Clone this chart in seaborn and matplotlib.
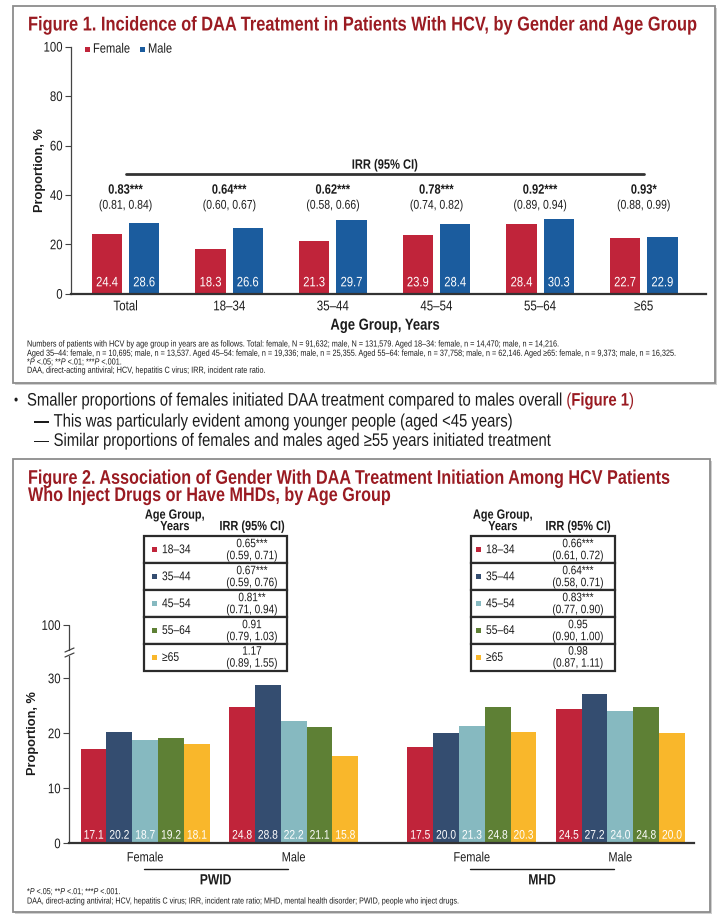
import matplotlib
matplotlib.use('Agg')
import matplotlib.pyplot as plt
import seaborn as sns
import pandas as pd
from matplotlib.patches import Rectangle
from matplotlib.lines import Line2D
from matplotlib.patheffects import AbstractPathEffect
from matplotlib.transforms import Affine2D
from matplotlib.textpath import TextToPath
from matplotlib.font_manager import FontProperties

# ---- Figure 1 data ----
age_groups_1 = ['Total', '18–34', '35–44', '45–54', '55–64', '≥65']
female_1 = [24.4, 18.3, 21.3, 23.9, 28.4, 22.7]
male_1 = [28.6, 26.6, 29.7, 28.4, 30.3, 22.9]
irr_1 = ['0.83***', '0.64***', '0.62***', '0.78***', '0.92***', '0.93*']
ci_1 = ['(0.81, 0.84)', '(0.60, 0.67)', '(0.58, 0.66)', '(0.74, 0.82)', '(0.89, 0.94)', '(0.88, 0.99)']

# ---- Figure 2 data ----
age_groups_2 = ['18–34', '35–44', '45–54', '55–64', '≥65']
group_labels = ['Female', 'Male', 'Female', 'Male']
pwid_female = [17.1, 20.2, 18.7, 19.2, 18.1]
pwid_male = [24.8, 28.8, 22.2, 21.1, 15.8]
mhd_female = [17.5, 20.0, 21.3, 24.8, 20.3]
mhd_male = [24.5, 27.2, 24.0, 24.8, 20.0]
pwid_irr = ['0.65***', '0.67***', '0.81**', '0.91', '1.17']
pwid_ci = ['(0.59, 0.71)', '(0.59, 0.76)', '(0.71, 0.94)', '(0.79, 1.03)', '(0.89, 1.55)']
mhd_irr = ['0.66***', '0.64***', '0.83***', '0.95', '0.98']
mhd_ci = ['(0.61, 0.72)', '(0.58, 0.71)', '(0.77, 0.90)', '(0.90, 1.00)', '(0.87, 1.11)']

TITLE_RED = '#9a1b22'
RED = '#c0243a'
BLUE = '#1b5c9e'
colors_2 = ['#c0243a', '#344d70', '#86b9c0', '#5e8035', '#f9b72b']
INK = '#1c1c1c'

sns.set_theme(style='white')
FAMILY = ['Liberation Sans', 'DejaVu Sans']
plt.rcParams['font.family'] = FAMILY

# the poster lettering is condensed (tall and narrow); stretch glyphs vertically
SY = 1 / 0.82


class Stretch(AbstractPathEffect):
    def __init__(self, artist, sy=SY):
        super().__init__()
        self.artist = artist
        self.sy = sy

    def draw_path(self, renderer, gc, tpath, affine, rgbFace=None):
        a = self.artist
        y0 = a.get_transform().transform(a.get_unitless_position())[1]
        aff = affine + Affine2D().translate(0, -y0).scale(1, self.sy).translate(0, y0)
        renderer.draw_path(gc, tpath, aff, rgbFace)


def condense(t):
    t.set_path_effects([Stretch(t)])


W, H = 727, 918
fig = plt.figure(figsize=(W / 100, H / 100), dpi=100)
TTP = TextToPath()


def px(x, y):
    return x / W, 1 - y / H


def text(x, y, s, size, **kw):
    kw.setdefault('va', 'center')
    kw.setdefault('color', INK)
    return fig.text(x / W, 1 - y / H, s, fontsize=size, **kw)


def width_of(s, size, **kw):
    # outline-based advance width in pixels, trailing spaces included
    prop = FontProperties(family=FAMILY, size=size, weight=kw.get('fontweight', 'normal'),
                          style=kw.get('style', 'normal'))
    w1 = TTP.get_text_width_height_descent(s + '|', prop, ismath=False)[0]
    w2 = TTP.get_text_width_height_descent('|', prop, ismath=False)[0]
    return (w1 - w2) * 100 / 72


def fit(s, target, **kw):
    return 10 * target / width_of(s, 10, **kw)


def run(x, y, pieces, size, **common):
    for s, kw in pieces:
        style = {**common, **kw}
        text(x, y, s.rstrip(), size, **style)
        x += width_of(s, size, **style)


def panel(x0, y0, x1, y1):
    fig.add_artist(Rectangle(px(x0 + 2, y1 + 2), (x1 - x0) / W, (y1 - y0) / H,
                             transform=fig.transFigure, facecolor='#cfcfcf',
                             edgecolor='none', zorder=-3))
    fig.add_artist(Rectangle(px(x0, y1), (x1 - x0) / W, (y1 - y0) / H,
                             transform=fig.transFigure, facecolor='white',
                             edgecolor='#8c8c8c', lw=1.3, zorder=-2))


def hline(x0, x1, y, lw=1.0, color=INK):
    fig.add_artist(Line2D([x0 / W, x1 / W], [1 - y / H, 1 - y / H],
                          transform=fig.transFigure, color=color, lw=lw))


panel(13, 6, 715, 383)
panel(13, 459, 710, 912)

# ================= Figure 1 =================
t1 = 'Figure 1. Incidence of DAA Treatment in Patients With HCV, by Gender and Age Group'
text(28, 25, t1, fit(t1, 669, fontweight='bold'), fontweight='bold', color=TITLE_RED)

ax1 = fig.add_axes([71 / W, 1 - 293.8 / H, 635 / W, 247.1 / H])
ax1.set_facecolor('none')
df1 = pd.DataFrame({
    'age': age_groups_1 * 2,
    'gender': ['Female'] * len(female_1) + ['Male'] * len(male_1),
    'pct': female_1 + male_1,
})
sns.barplot(data=df1, x='age', y='pct', hue='gender', order=age_groups_1,
            hue_order=['Female', 'Male'], palette={'Female': RED, 'Male': BLUE},
            width=0.72, gap=0.19, saturation=1, errorbar=None, legend=False,
            linewidth=0, ax=ax1)
for cont in ax1.containers:
    for bar in cont:
        ax1.text(bar.get_x() + bar.get_width() / 2, 4.5, f'{bar.get_height():.1f}',
                 ha='center', va='center', color='white', fontsize=8.1)
ax1.set_xlim(-0.527, 5.6)
ax1.set_ylim(0, 100)
ax1.set_yticks([0, 20, 40, 60, 80, 100])
sns.despine(ax=ax1)
ax1.spines['left'].set_color('#444')
ax1.spines['left'].set_linewidth(0.9)
ax1.spines['bottom'].set_color('#333')
ax1.spines['bottom'].set_linewidth(1.6)
ax1.tick_params(axis='y', left=True, length=4, width=0.8, color='#444', pad=2,
                labelsize=8.2, labelcolor=INK)
ax1.tick_params(axis='x', bottom=False, length=0, pad=4, labelsize=8.3, labelcolor=INK)
ax1.set_xlabel('Age Group, Years', fontsize=9.4, fontweight='bold', color=INK)
ax1.xaxis.set_label_coords(0.494, -(326 - 293.8) / 247.1)
ax1.xaxis.label.set_va('center')
ax1.set_ylabel('Proportion, %', fontsize=9.2, fontweight='bold', color=INK)
ax1.yaxis.set_label_coords((40 - 71) / 635, 0.5)
ax1.yaxis.label.set_va('center')

# IRR annotation
ax1.plot([0, 5], [48.3, 48.3], color='#333', lw=2, clip_on=False)
ax1.text(2.5, 52.1, 'IRR (95% CI)', ha='center', va='center', fontsize=8,
         fontweight='bold', color=INK)
for i, (v, ci) in enumerate(zip(irr_1, ci_1)):
    ax1.text(i, 42.0, v, ha='center', va='center', fontsize=8, fontweight='bold', color=INK)
    ax1.text(i, 35.9, ci, ha='center', va='center', fontsize=7.5, color=INK)

# legend
for x0, col, lab in [(85, RED, 'Female'), (140, BLUE, 'Male')]:
    fig.add_artist(Rectangle(px(x0, 52), 5 / W, 5 / H, transform=fig.transFigure,
                             facecolor=col, edgecolor='none'))
    text(x0 + 8, 49, lab, 8)

# footnotes
fn1 = ['Numbers of patients with HCV by age group in years are as follows. Total: female, N = 91,632; '
       'male, N = 131,579. Aged 18–34: female, n = 14,470; male, n = 14,216.',
       'Aged 35–44: female, n = 10,695; male, n = 13,537. Aged 45–54: female, n = 19,336; male, '
       'n = 25,355. Aged 55–64: female, n = 37,758; male, n = 62,146. Aged ≥65: female, n = 9,373; '
       'male, n = 16,325.']
fs1 = fit(fn1[1], 649)
text(27, 344.7, fn1[0], fs1)
text(27, 354, fn1[1], fs1)
it = {'style': 'italic'}
pline = [('*', {}), ('P', it), (' <.05; **', {}), ('P', it), (' <.01; ***', {}), ('P', it), (' <.001.', {})]
run(27, 362.7, pline, fs1)
text(27, 371, 'DAA, direct-acting antiviral; HCV, hepatitis C virus; IRR, incident rate ratio.', fs1)

# ================= Bullets =================
bsize = fit('This was particularly evident among younger people (aged <45 years)', 459)
red_kw = {'color': TITLE_RED}
text(14, 400.7, '•', bsize * 0.8)
run(27, 400.7, [('Smaller proportions of females initiated DAA treatment compared to males overall ', {}),
                ('(', red_kw), ('Figure 1', {'color': TITLE_RED, 'fontweight': 'bold'}), (')', red_kw)], bsize)
text(34, 421.7, '—', bsize)
text(53.6, 421.7, 'This was particularly evident among younger people (aged <45 years)', bsize)
text(34, 441, '—', bsize)
text(53.6, 441, 'Similar proportions of females and males aged ≥55 years initiated treatment', bsize)

# ================= Figure 2 =================
t2a = 'Figure 2. Association of Gender With DAA Treatment Initiation Among HCV Patients'
t2b = 'Who Inject Drugs or Have MHDs, by Age Group'
ts2 = fit(t2a, 642, fontweight='bold')
text(28, 478.3, t2a, ts2, fontweight='bold', color=TITLE_RED)
text(28, 495.5, t2b, ts2, fontweight='bold', color=TITLE_RED)


def draw_table(x0, x1, sq_x, lab_x, age_cx, val_cx, irr, ci):
    edges = [536, 563, 590, 617, 643.5, 671]
    text(age_cx, 515, 'Age Group,', 7.9, ha='center', fontweight='bold')
    text(age_cx, 526.5, 'Years', 7.9, ha='center', fontweight='bold')
    text(val_cx, 526.5, 'IRR (95% CI)', 7.9, ha='center', fontweight='bold')
    for i in range(len(irr)):
        top, bot = edges[i], edges[i + 1]
        fig.add_artist(Rectangle(px(x0, bot), (x1 - x0) / W, (bot - top) / H,
                                 transform=fig.transFigure, facecolor='white',
                                 edgecolor='#2b2b2b', lw=1.6))
        cy = (top + bot) / 2
        fig.add_artist(Rectangle(px(sq_x, cy + 2.5), 5 / W, 5 / H, transform=fig.transFigure,
                                 facecolor=colors_2[i], edgecolor='none'))
        text(lab_x, cy, age_groups_2[i], 7.4)
        text(val_cx, top + 7.5, irr[i], 7.2, ha='center')
        text(val_cx, top + 19.5, ci[i], 7.2, ha='center')


draw_table(144, 287, 152, 162, 175, 252, pwid_irr, pwid_ci)
draw_table(471, 615, 476, 486, 503, 578, mhd_irr, mhd_ci)

ax2 = fig.add_axes([69 / W, 1 - 843.3 / H, 625 / W, 218.3 / H])
ax2.set_facecolor('none')
group_pos = [0.0, 1.0, 2.2, 3.2]
group_vals = [pwid_female, pwid_male, mhd_female, mhd_male]
rows = []
for p, vals in zip(group_pos, group_vals):
    for a, v in zip(age_groups_2, vals):
        rows.append({'pos': p, 'age': a, 'pct': v})
df2 = pd.DataFrame(rows)
sns.barplot(data=df2, x='pos', y='pct', hue='age', hue_order=age_groups_2,
            native_scale=True, width=0.869, gap=0, palette=colors_2, saturation=1,
            errorbar=None, legend=False, linewidth=0, ax=ax2)
for cont in ax2.containers:
    for bar in cont:
        ax2.text(bar.get_x() + bar.get_width() / 2, 1.5, f'{bar.get_height():.1f}',
                 ha='center', va='center', color='white', fontsize=7.4)

ytop = (843.3 - 625) / 5.5
ax2.set_xlim(-0.513, 3.696)
ax2.set_ylim(0, ytop)
ax2.set_yticks([0, 10, 20, 30, ytop], ['0', '10', '20', '30', '100'])
ax2.set_xticks(group_pos, group_labels)
sns.despine(ax=ax2)
ax2.spines['left'].set_visible(False)
ax2.spines['bottom'].set_color('#333')
ax2.spines['bottom'].set_linewidth(1.6)
ax2.tick_params(axis='y', left=True, length=4, width=0.8, color='#444', pad=2,
                labelsize=8.2, labelcolor=INK)
ax2.tick_params(axis='x', bottom=False, length=0, pad=6, labelsize=7.9, labelcolor=INK)
ax2.set_xlabel('')
ax2.set_ylabel('Proportion, %', fontsize=9.2, fontweight='bold', color=INK)
ax2.yaxis.set_label_coords((33 - 69) / 625, 0.505)
ax2.yaxis.label.set_va('center')

# broken y axis
yt = ax2.get_yaxis_transform()
ax2.plot([0, 0], [0, (843.3 - 655.5) / 5.5], transform=yt, clip_on=False, color='#444', lw=0.9)
ax2.plot([0, 0], [(843.3 - 649.5) / 5.5, ytop], transform=yt, clip_on=False, color='#444', lw=0.9)
for yb in (650, 655):
    fig.add_artist(Line2D([65 / W, 74 / W], [1 - (yb + 2) / H, 1 - (yb - 2) / H],
                          transform=fig.transFigure, color='#444', lw=0.9))

# group brackets
hline(143.5, 287.5, 869.3)
hline(469.7, 614.2, 869.3)
text(215.5, 880.7, 'PWID', 8.7, ha='center', fontweight='bold')
text(542, 880.7, 'MHD', 8.7, ha='center', fontweight='bold')

fn2 = ('DAA, direct-acting antiviral; HCV, hepatitis C virus; IRR, incident rate ratio; '
       'MHD, mental health disorder; PWID, people who inject drugs.')
fs2 = fit(fn2, 432)
run(27, 892.3, pline, fs2)
text(27, 901.7, fn2, fs2)

# condensed lettering for every horizontal text (rotated y labels left as they are)
all_texts = list(fig.texts) + list(ax1.texts) + list(ax2.texts)
for ax in (ax1, ax2):
    all_texts += list(ax.get_xticklabels()) + list(ax.get_yticklabels())
all_texts.append(ax1.xaxis.label)
for t in all_texts:
    condense(t)

fig.savefig('out.png', dpi=100)
